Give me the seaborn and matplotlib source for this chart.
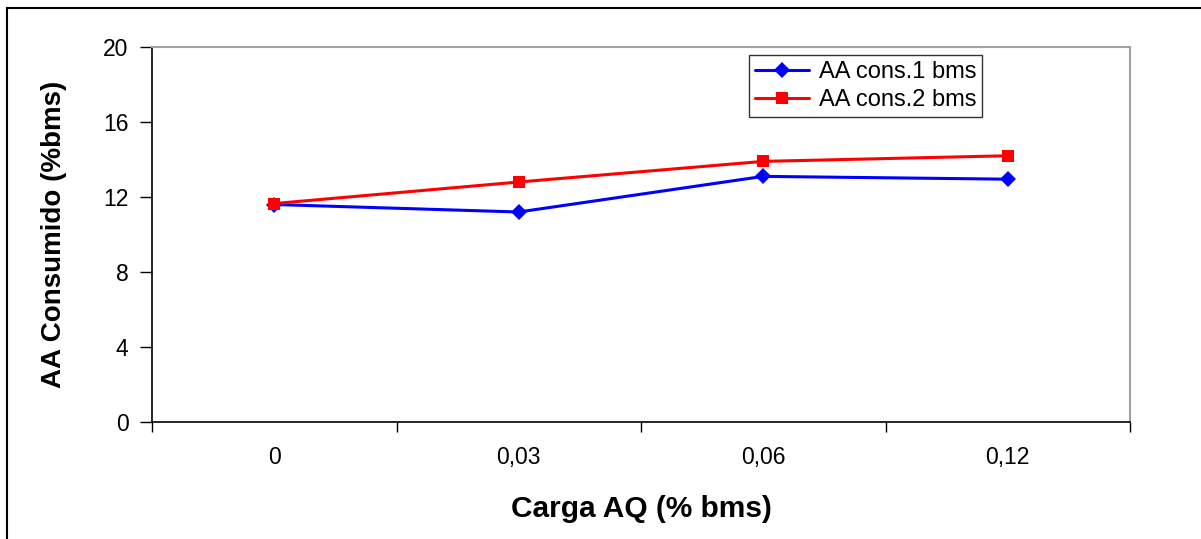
import matplotlib
matplotlib.use("Agg")
import matplotlib.pyplot as plt
import seaborn as sns
import pandas as pd
from matplotlib.patches import Rectangle
from matplotlib.ticker import FixedLocator

categories = ["0", "0,03", "0,06", "0,12"]
aa_cons_1 = [11.6, 11.2, 13.1, 12.95]
aa_cons_2 = [11.65, 12.8, 13.9, 14.2]
series_names = ["AA cons.1 bms", "AA cons.2 bms"]
y_ticks = [0, 4, 8, 12, 16, 20]

sns.set_theme(style="white")
plt.rcParams["font.family"] = ["Liberation Sans", "DejaVu Sans"]
plt.rcParams["text.color"] = "black"
plt.rcParams["axes.labelcolor"] = "black"
plt.rcParams["xtick.color"] = "black"
plt.rcParams["ytick.color"] = "black"

fig = plt.figure(figsize=(12.01, 5.39), dpi=100)
ax = fig.add_axes([152/1201, 1-422/539, (1130-152)/1201, (422-47)/539])

df = pd.DataFrame({
    "cat": categories * 2,
    "val": aa_cons_1 + aa_cons_2,
    "serie": [series_names[0]] * 4 + [series_names[1]] * 4,
})

sns.lineplot(data=df, x="cat", y="val", hue="serie", style="serie",
             palette={series_names[0]: "#0000FF", series_names[1]: "#FF0000"},
             markers={series_names[0]: "D", series_names[1]: "s"},
             dashes=False, sort=False, linewidth=2.2, markersize=8.5,
             markeredgewidth=0, ax=ax)

ax.set_xlim(-0.5, 3.5)
ax.set_ylim(0, 20)
ax.set_yticks(y_ticks)
ax.set_yticklabels([str(t) for t in y_ticks], fontsize=16.5)
ax.tick_params(axis="y", direction="out", length=9, width=1, color="black", pad=8, left=True)
ax.tick_params(axis="x", which="major", length=0, pad=17, labelsize=16.5)
ax.xaxis.set_minor_locator(FixedLocator([-0.5, 0.5, 1.5, 2.5, 3.5]))
ax.tick_params(axis="x", which="minor", direction="out", length=7, width=1, color="black", bottom=True)

for s in ["left", "bottom"]:
    ax.spines[s].set_color("black")
    ax.spines[s].set_linewidth(1.2)
for s in ["top", "right"]:
    ax.spines[s].set_color("#A0A0A0")
    ax.spines[s].set_linewidth(1.5)

ax.set_xlabel("Carga AQ (% bms)", fontsize=21.5, fontweight="bold", labelpad=19)
ax.set_ylabel("AA Consumido (%bms)", fontsize=20, fontweight="bold", labelpad=26)

leg = ax.legend(loc="upper left", bbox_to_anchor=((749-152)/978, 1-(55-47)/375),
                fontsize=17, frameon=True, fancybox=False, edgecolor="black",
                borderpad=0.25, handlelength=2.3, handletextpad=0.4,
                labelspacing=0.25, borderaxespad=0)
leg.get_frame().set_linewidth(1.0)

fig.patches.append(Rectangle((7/1201, -0.1), 1.2, 1-8/539+0.1, transform=fig.transFigure,
                             fill=False, edgecolor="black", linewidth=1.5))

fig.savefig("out.png", dpi=100, facecolor="white")
